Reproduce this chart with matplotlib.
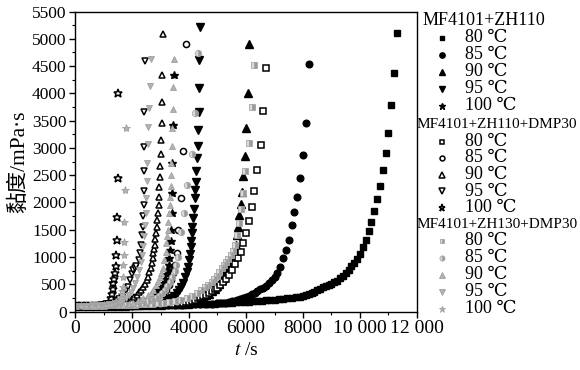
import matplotlib
matplotlib.use("Agg")
import matplotlib.pyplot as plt
from matplotlib.ticker import MultipleLocator, FixedLocator

plt.rcParams["font.family"] = ["Liberation Serif", "DejaVu Serif", "Noto Sans CJK SC"]
plt.rcParams["mathtext.fontset"] = "stix"

# ---- data (t in s, viscosity in mPa·s) ----
# MF4101+ZH110
a80_t = [0, 200, 400, 600, 800, 1000, 1200, 1400, 1600, 1800, 2000, 2200, 2400, 2600, 2800, 3000,
         3200, 3400, 3600, 3800, 4000, 4150, 4300, 4450, 4600, 4750, 4900, 5050, 5200, 5350, 5500,
         5650, 5800, 5950, 6100, 6250, 6400, 6550, 6700, 6850, 7000, 7150, 7300, 7450, 7600, 7750,
         7900, 8000, 8100, 8200, 8300, 8400, 8500, 8600, 8700, 8800, 8900, 9000, 9100, 9200, 9300,
         9400, 9500, 9600, 9700, 9800, 9900, 10000, 10100, 10200, 10300, 10400, 10500, 10600, 10700,
         10800, 10900, 11000, 11100, 11200, 11300]
a80_v = [100, 100, 100, 100, 100, 102, 103, 104, 105, 106, 108, 109, 111, 112, 114, 116,
         118, 120, 122, 125, 128, 130, 133, 136, 139, 142, 146, 150, 154, 158, 162,
         166, 170, 175, 180, 186, 192, 198, 205, 212, 220, 228, 237, 246, 255, 263,
         272, 288, 305, 322, 342, 365, 394, 418, 442, 465, 487, 510, 535, 568, 610,
         660, 710, 765, 830, 895, 970, 1060, 1190, 1320, 1470, 1650, 1840, 2070, 2310,
         2590, 2900, 3280, 3790, 4370, 5100]
a85_t = [0, 250, 500, 750, 1000, 1250, 1500, 1750, 2000, 2250, 2500, 2750, 3000, 3250, 3500, 3750,
         4000, 4200, 4400, 4600, 4800, 5000, 5100, 5200, 5300, 5400, 5500, 5600, 5700, 5800, 5900,
         6000, 6100, 6200, 6300, 6400, 6500, 6600, 6700, 6800, 6900, 7000, 7100, 7200, 7300, 7400,
         7500, 7600, 7700, 7800, 7900, 8000, 8100, 8200]
a85_v = [100, 100, 100, 100, 102, 104, 106, 108, 110, 112, 114, 116, 118, 121, 124, 127,
         130, 133, 137, 141, 145, 150, 153, 157, 165, 175, 188, 200, 214, 230, 248,
         268, 290, 315, 340, 370, 405, 440, 475, 520, 577, 640, 711, 821, 975, 1127,
         1311, 1586, 1829, 2104, 2441, 2869, 3461, 4531]
a90_t = [0, 250, 500, 750, 1000, 1250, 1500, 1750, 2000, 2250, 2500, 2750, 3000, 3250, 3500, 3750,
         3900, 4000, 4100, 4200, 4300, 4400, 4500, 4600, 4700, 4800, 4900, 5000, 5070, 5150, 5200,
         5250, 5300, 5350, 5400, 5450, 5500, 5550, 5600, 5640, 5695, 5720, 5766, 5825, 5871, 5906,
         5965, 6001, 6060, 6117]
a90_v = [100, 100, 100, 100, 102, 104, 106, 108, 111, 114, 117, 121, 125, 130, 136, 143,
         150, 158, 168, 185, 210, 240, 270, 298, 330, 370, 420, 470, 510, 577, 620,
         680, 740, 800, 870, 940, 1000, 1070, 1140, 1219, 1402, 1555, 1769, 1970, 2196, 2484,
         2850, 3358, 4011, 4898]
a95_t = [0, 250, 500, 750, 1000, 1250, 1500, 1800, 2000, 2200, 2400, 2600, 2800, 3000, 3150, 3250,
         3333, 3400, 3480, 3570, 3650, 3730, 3800, 3870, 3920, 3960, 4000, 4030, 4060, 4080, 4100,
         4120, 4145, 4170, 4195, 4220, 4240, 4260, 4280, 4300, 4320, 4335, 4350, 4365, 4386]
a95_v = [100, 100, 100, 100, 102, 104, 106, 108, 112, 118, 125, 135, 145, 160, 180, 200,
         225, 250, 290, 334, 390, 450, 530, 640, 730, 821, 950, 1060, 1188, 1300, 1433,
         1554, 1708, 1879, 2086, 2227, 2380, 2581, 2808, 3040, 3327, 3663, 4091, 4610, 5220]
a100_t = [0, 250, 500, 750, 1000, 1200, 1400, 1600, 1800, 2000, 2200, 2300, 2400, 2515, 2600, 2700,
          2780, 2866, 2950, 3020, 3100, 3170, 3220, 3260, 3290, 3315, 3335, 3355, 3375, 3395, 3410,
          3420, 3428, 3474]
a100_v = [100, 100, 100, 100, 100, 105, 110, 118, 128, 140, 160, 175, 190, 211, 235, 260,
          290, 334, 390, 450, 517, 600, 680, 761, 860, 975, 1127, 1298, 1494, 1800, 2177,
          2717, 3419, 4335]

# MF4101+ZH110+DMP30
b80_t = [0, 250, 500, 750, 1000, 1250, 1500, 1750, 2000, 2250, 2500, 2800, 3000, 3200, 3400, 3600,
         3800, 3900, 4000, 4100, 4200, 4300, 4400, 4500, 4600, 4700, 4800, 4900, 5000, 5100, 5200,
         5300, 5400, 5500, 5600, 5720, 5814, 5906, 6001, 6105, 6200, 6293, 6398, 6516, 6608, 6702]
b80_v = [100, 100, 100, 100, 102, 104, 106, 108, 111, 114, 117, 120, 125, 132, 140, 150,
         162, 172, 183, 200, 220, 240, 260, 285, 310, 338, 370, 405, 440, 495, 546,
         600, 665, 760, 871, 975, 1096, 1250, 1433, 1659, 1910, 2214, 2594, 3052, 3675, 4458]
b85_t = [0, 300, 600, 900, 1200, 1500, 1700, 1900, 2100, 2300, 2500, 2650, 2800, 2900, 3000, 3100,
         3200, 3300, 3380, 3450, 3510, 3570, 3630, 3710, 3800, 3895]
b85_v = [100, 100, 100, 100, 102, 107, 112, 118, 127, 140, 160, 180, 205, 235, 270, 320,
         390, 480, 580, 700, 850, 1067, 1494, 2075, 2948, 4909]
b90_t = [0, 200, 400, 600, 800, 1000, 1200, 1300, 1400, 1500, 1600, 1695, 1770, 1850, 1930, 2000,
         2080, 2164, 2250, 2320, 2397, 2460, 2520, 2573, 2610, 2650, 2690, 2720, 2748, 2770, 2797,
         2820, 2843, 2866, 2890, 2913, 2937, 2948, 2960, 2972, 2983, 3007, 3017, 3041, 3053, 3063,
         3098]
b90_v = [100, 100, 100, 100, 100, 105, 110, 116, 122, 130, 140, 150, 170, 190, 211, 235,
         265, 302, 350, 400, 455, 510, 570, 638, 720, 800, 884, 975, 1067, 1140, 1219,
         1323, 1433, 1555, 1677, 1800, 1952, 2104, 2288, 2471, 2667, 2887, 3144, 3450, 3835, 4335,
         5081]
b95_t = [0, 200, 400, 600, 800, 900, 1000, 1100, 1200, 1300, 1404, 1470, 1550, 1638, 1720, 1800,
         1871, 1940, 2000, 2047, 2100, 2150, 2230, 2290, 2330, 2360, 2375, 2390, 2405, 2415, 2430,
         2432, 2432, 2456]
b95_v = [100, 100, 100, 104, 110, 115, 122, 132, 145, 160, 180, 200, 230, 271, 330, 390,
         455, 580, 680, 761, 800, 840, 940, 1067, 1219, 1402, 1555, 1760, 1950, 2214, 2575,
         3021, 3663, 4597]
b100_t = [0, 150, 300, 450, 600, 750, 900, 1000, 1080, 1150, 1200, 1250, 1290, 1320, 1350, 1380,
          1410, 1430, 1450, 1465, 1480, 1495, 1520]
b100_v = [100, 100, 100, 100, 100, 102, 106, 112, 125, 140, 180, 250, 330, 420, 520, 600,
          700, 840, 1040, 1310, 1730, 2440, 4000]

# MF4101+ZH130+DMP30
c80_t = [0, 400, 700, 1000, 1300, 1600, 1900, 2100, 2300, 2500, 2700, 2900, 3100, 3300, 3500, 3700,
         3919, 4100, 4270, 4420, 4562, 4680, 4796, 4880, 4972, 5060, 5148, 5220, 5300, 5381, 5460,
         5540, 5620, 5700, 5766, 5825, 5884, 5965, 6117, 6211, 6293]
c80_v = [110, 110, 110, 112, 114, 118, 122, 127, 132, 138, 145, 153, 163, 175, 190, 210,
         242, 285, 334, 390, 443, 495, 546, 600, 651, 720, 792, 850, 900, 960, 1030,
         1110, 1219, 1402, 1616, 1880, 2177, 2581, 3083, 3754, 4518]
c85_t = [0, 300, 600, 900, 1200, 1500, 1800, 2000, 2200, 2400, 2550, 2700, 2850, 2950, 3050, 3150,
         3240, 3330, 3420, 3500, 3560, 3600, 3710, 3830, 3945, 4095, 4211, 4328]
c85_v = [110, 110, 110, 110, 112, 116, 124, 132, 145, 165, 185, 215, 255, 290, 340, 400,
         470, 550, 640, 740, 852, 1000, 1450, 1800, 2319, 2887, 3633, 4744]
c90_t = [0, 400, 700, 1000, 1300, 1500, 1700, 1900, 2046, 2200, 2300, 2397, 2550, 2650, 2748, 2850,
         2920, 2983, 3030, 3080, 3140, 3180, 3210, 3235, 3260, 3280, 3300, 3320, 3340, 3355, 3370,
         3380, 3390, 3400, 3428, 3450, 3485]
c90_v = [110, 110, 110, 110, 115, 120, 128, 138, 150, 190, 215, 242, 295, 340, 394, 480,
         560, 638, 710, 800, 944, 1100, 1250, 1380, 1500, 1640, 1800, 1952, 2104, 2300, 2502,
         2717, 3034, 3358, 3706, 4121, 4622]
c95_t = [0, 200, 400, 600, 800, 1000, 1200, 1300, 1400, 1500, 1600, 1700, 1800, 1880, 1960, 2030,
         2100, 2180, 2250, 2310, 2360, 2400, 2430, 2455, 2475, 2495, 2515, 2538, 2550, 2573, 2608,
         2632, 2667]
c95_v = [110, 110, 110, 112, 115, 122, 132, 140, 150, 165, 185, 215, 255, 300, 360, 430,
         520, 640, 770, 900, 1040, 1200, 1380, 1580, 1800, 2080, 2392, 2717, 3080, 3388, 3724,
         4133, 4622]
c100_t = [0, 200, 400, 600, 800, 1000, 1100, 1200, 1300, 1400, 1450, 1500, 1540, 1580, 1610, 1640,
          1660, 1680, 1690, 1700, 1705, 1715, 1735, 1760, 1790]
c100_v = [110, 110, 110, 110, 110, 114, 118, 125, 135, 150, 160, 180, 200, 230, 270, 320,
          380, 455, 638, 852, 1036, 1283, 1646, 2227, 3358]

temps = ["80 \u2103", "85 \u2103", "90 \u2103", "95 \u2103", "100 \u2103"]
groups = ["MF4101+ZH110", "MF4101+ZH110+DMP30", "MF4101+ZH130+DMP30"]

GREY = "#b2b2b2"
black = dict(color="black", mec="black")
hollow = dict(mfc="white", mec="black", mew=1.1)
grey = dict(mfc=GREY, mec="#a0a0a0", mew=0.6)
half = dict(mfc="#dadada", mfcalt="#9a9a9a", fillstyle="left", mec="#a8a8a8", mew=0.6)

series = [
    (a80_t, a80_v, "s", 4.2, black), (a85_t, a85_v, "o", 4.8, black),
    (a90_t, a90_v, "^", 5.2, black), (a95_t, a95_v, "v", 5.2, black),
    (a100_t, a100_v, "*", 6.2, black),
    (b80_t, b80_v, "s", 4.2, hollow), (b85_t, b85_v, "o", 4.4, hollow),
    (b90_t, b90_v, "^", 5.0, hollow), (b95_t, b95_v, "v", 5.0, hollow),
    (b100_t, b100_v, "*", 6.4, hollow),
    (c80_t, c80_v, "s", 4.2, half), (c85_t, c85_v, "o", 4.6, half),
    (c90_t, c90_v, "^", 5.0, grey), (c95_t, c95_v, "v", 5.0, grey),
    (c100_t, c100_v, "*", 6.0, grey),
]

fig = plt.figure(figsize=(5.8, 3.7), dpi=100)
fig.patch.set_facecolor("white")
ax = fig.add_axes([75 / 580, 58.5 / 370, 342 / 580, 300 / 370])

for t, v, m, ms, st in series:
    ax.plot(t, v, linestyle="none", marker=m, ms=ms, **st)

ax.set_xlim(0, 12000)
ax.set_ylim(0, 5500)
ax.xaxis.set_major_locator(FixedLocator([0, 2000, 4000, 6000, 8000, 10000, 12000]))
ax.set_xticklabels(["0", "2000", "4000", "6000", "8000", "10 000", "12 000"])
ax.xaxis.set_minor_locator(MultipleLocator(1000))
ax.yaxis.set_major_locator(MultipleLocator(500))
ax.yaxis.set_minor_locator(MultipleLocator(250))
ax.tick_params(which="major", direction="out", length=4, width=1, pad=2)
ax.tick_params(which="minor", direction="out", length=2.5, width=0.8)
ax.tick_params(axis="x", labelsize=14)
ax.tick_params(axis="y", labelsize=12.5)
for s in ax.spines.values():
    s.set_linewidth(1.0)

ax.set_xlabel("$t$ /s", fontsize=14, labelpad=4)
ax.set_ylabel("黏度/mPa·s", fontsize=15.5, labelpad=2)

# legend drawn in figure pixel space
lax = fig.add_axes([0, 0, 1, 1], facecolor="none")
lax.set_xlim(0, 580)
lax.set_ylim(370, 0)
lax.axis("off")

head_y = [20.5, 124, 225]
row_y = [[37.5, 54.5, 71.5, 88.5, 105.5],
         [141.5, 158, 174.5, 191, 207.5],
         [240.5, 257.5, 274.5, 291.5, 308.5]]
head_x = [423, 417, 417]
head_fs = [13, 11, 11]
for g in range(3):
    lax.text(head_x[g], head_y[g], groups[g], fontsize=head_fs[g], va="center", ha="left")
    for k in range(5):
        _, _, m, ms, st = series[g * 5 + k]
        lax.plot([442], [row_y[g][k]], linestyle="none", marker=m, ms=ms * 0.8, **st)
        lax.text(465, row_y[g][k], temps[k], fontsize=13, va="center", ha="left")

fig.savefig("out.png", dpi=100, facecolor="white")
